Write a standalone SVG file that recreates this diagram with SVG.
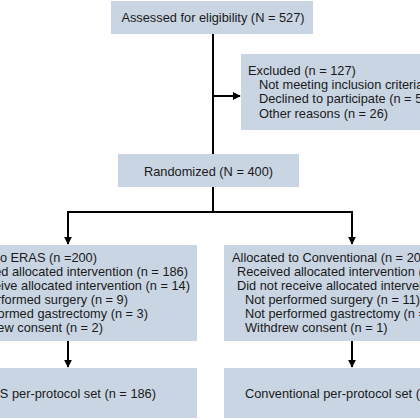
<svg xmlns="http://www.w3.org/2000/svg" width="420" height="420" viewBox="0 0 420 420">
<style>
.box{fill:#c9d5e3}
text{font-family:"Liberation Sans",Arial,sans-serif;font-size:12.8px;fill:#1a1a1a}
.c{text-anchor:middle}
.e{text-anchor:end}
.ln{stroke:#000;stroke-width:2;fill:none}
</style>
<defs>
<marker id="ah" viewBox="0 0 10 10" refX="9" refY="5" markerWidth="4" markerHeight="4" orient="auto" markerUnits="strokeWidth">
<path d="M0,0L10,5L0,10z" fill="#000"/>
</marker>
</defs>
<rect width="420" height="420" fill="#fff"/>
<g id="connectors">
<path class="ln" d="M213,34V154"/>
<path class="ln" d="M213,96H240" marker-end="url(#ah)"/>
<path class="ln" d="M213,187V212"/>
<path class="ln" d="M68,212H352"/>
<path class="ln" d="M68,211V244" marker-end="url(#ah)"/>
<path class="ln" d="M352,211V244" marker-end="url(#ah)"/>
<path class="ln" d="M68,341V367" marker-end="url(#ah)"/>
<path class="ln" d="M352,341V367" marker-end="url(#ah)"/>
</g>
<g id="assessed">
<rect class="box" x="111" y="1" width="202" height="33"/>
<text class="c" x="213" y="21.5">Assessed for eligibility (N = 527)</text>
</g>
<g id="excluded">
<rect class="box" x="241" y="54" width="200" height="76"/>
<text x="248" y="74.5">Excluded (n = 127)</text>
<text x="259" y="89">Not meeting inclusion criteria (n = 49)</text>
<text x="259" y="103">Declined to participate (n = 52)</text>
<text x="259" y="117.5">Other reasons (n = 26)</text>
</g>
<g id="randomized">
<rect class="box" x="118" y="154" width="181" height="33"/>
<text class="c" x="208.5" y="175.5">Randomized (N = 400)</text>
</g>
<g id="eras">
<rect class="box" x="-70" y="245" width="267" height="96"/>
<text class="e" x="97" y="261.5">Allocated to ERAS (n =200)</text>
<text class="e" x="188" y="275.5">Received allocated intervention (n = 186)</text>
<text class="e" x="190" y="289.5">Did not receive allocated intervention (n = 14)</text>
<text class="e" x="128" y="303.5">Not performed surgery (n = 9)</text>
<text class="e" x="148" y="317.5">Not performed gastrectomy (n = 3)</text>
<text class="e" x="103" y="331.5">Withdrew consent (n = 2)</text>
</g>
<g id="conventional">
<rect class="box" x="224" y="245" width="267" height="96"/>
<text x="232" y="261.5">Allocated to Conventional (n = 200)</text>
<text x="237" y="275.5">Received allocated intervention (n = 185)</text>
<text x="237" y="289.5">Did not receive allocated intervention (n = 15)</text>
<text x="245" y="303.5">Not performed surgery (n = 11)</text>
<text x="245" y="317.5">Not performed gastrectomy (n = 3)</text>
<text x="245" y="331.5">Withdrew consent (n = 1)</text>
</g>
<g id="eras-pp">
<rect class="box" x="-70" y="368" width="267" height="50"/>
<text class="e" x="156" y="397.5">ERAS per-protocol set (n = 186)</text>
</g>
<g id="conv-pp">
<rect class="box" x="224" y="368" width="267" height="50"/>
<text x="245" y="397.5">Conventional per-protocol set (n = 185)</text>
</g>
</svg>
